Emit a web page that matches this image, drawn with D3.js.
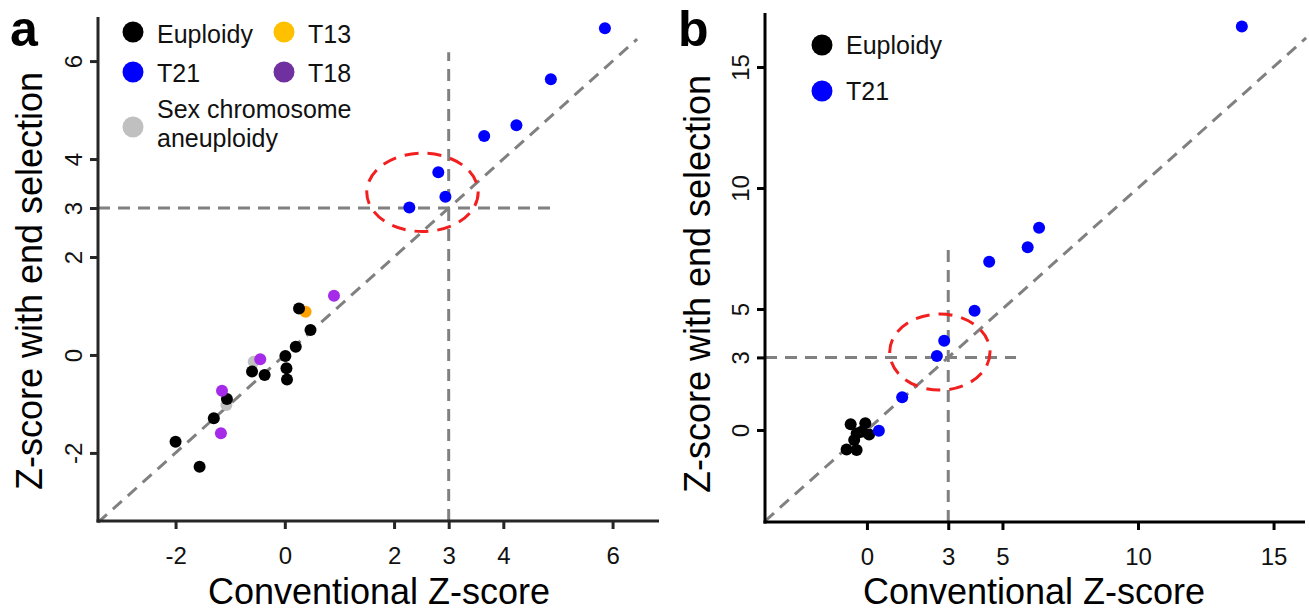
<!DOCTYPE html>
<html>
<head>
<meta charset="utf-8">
<script src="https://cdn.jsdelivr.net/npm/d3@7"></script>
<style>
  body { margin: 0; background: #fff; }
  text { font-family: "Liberation Sans", Arial, sans-serif; }
</style>
</head>
<body>
<div id="chart"></div>
<script>
// ---- panel a data: [conventional Z, Z with end selection] ----
var aEuploidy = [[0.26, 0.95], [0.47, 0.51], [0.20, 0.17], [0.01, -0.02], [0.03, -0.27],
    [0.04, -0.50], [-0.60, -0.34], [-0.37, -0.41], [-1.06, -0.90], [-1.30, -1.29],
    [-2.00, -1.77], [-1.56, -2.28]];
var aT13 = [[0.38, 0.88]];
var aT18 = [[0.90, 1.21], [-0.45, -0.09], [-1.15, -0.73], [-1.17, -1.60]];
var aSex = [[-0.57, -0.14], [-1.07, -1.02]];
var aT21 = [[5.86, 6.67], [4.87, 5.63], [4.24, 4.69], [3.65, 4.47], [2.81, 3.73],
    [2.94, 3.23], [2.28, 3.01]];
var aXTicks = [-2, 0, 2, 3, 4, 6];
var aYTicks = [-2, 0, 2, 3, 4, 6];

// ---- panel b data ----
var bEuploidy = [[-0.60, 0.24], [-0.06, 0.28], [-0.38, -0.14], [0.08, -0.18], [-0.20, -0.07],
    [-0.47, -0.41], [-0.75, -0.80], [-0.38, -0.83]];
var bT21 = [[13.83, 16.67], [6.35, 8.36], [5.93, 7.55], [4.51, 6.95], [3.97, 4.93],
    [2.85, 3.69], [2.58, 3.06], [1.30, 1.35], [0.44, -0.03]];
var bXTicks = [0, 3, 5, 10, 15];
var bYTicks = [0, 3, 5, 10, 15];

var width = 1309, height = 612;

var svg = d3.select("#chart").append("svg")
    .attr("width", width)
    .attr("height", height);

// plain hyphen for negatives, as in the figure
var fmt = function (d) { return String(d); };

function drawPanel(cfg) {
    var x = d3.scaleLinear().domain(cfg.xDomain).range(cfg.xRange);
    var y = d3.scaleLinear().domain(cfg.yDomain).range(cfg.yRange);
    var g = svg.append("g");
    var left = cfg.xRange[0], bottom = cfg.yRange[0];

    // dashed guide lines
    var dash = g.append("g")
        .attr("stroke", "#808080")
        .attr("stroke-width", 3)
        .attr("stroke-dasharray", "12,8")
        .attr("fill", "none");
    dash.append("line")
        .attr("x1", x(cfg.xDomain[0])).attr("y1", y(cfg.xDomain[0]))
        .attr("x2", x(cfg.diagEnd)).attr("y2", y(cfg.diagEnd));
    dash.append("line")
        .attr("x1", x(3)).attr("y1", bottom)
        .attr("x2", x(3)).attr("y2", y(cfg.vTop));
    dash.append("line")
        .attr("x1", left).attr("y1", y(3))
        .attr("x2", x(cfg.hRight)).attr("y2", y(3));

    // red ellipse round the borderline cases
    g.append("ellipse")
        .attr("cx", x(cfg.ellipse[0]))
        .attr("cy", y(cfg.ellipse[1]))
        .attr("rx", x(cfg.ellipse[0] + cfg.ellipse[2]) - x(cfg.ellipse[0]))
        .attr("ry", y(cfg.ellipse[1]) - y(cfg.ellipse[1] + cfg.ellipse[3]))
        .attr("fill", "none")
        .attr("stroke", "#f21f1f")
        .attr("stroke-width", 3)
        .attr("stroke-dasharray", "14,9");

    // points
    cfg.groups.forEach(function (grp) {
        g.append("g").selectAll("circle")
            .data(grp.data)
            .enter().append("circle")
            .attr("cx", function (d) { return x(d[0]); })
            .attr("cy", function (d) { return y(d[1]); })
            .attr("r", 6)
            .attr("fill", grp.color);
    });

    // axes
    var xAxis = g.append("g")
        .attr("transform", "translate(0," + bottom + ")")
        .call(d3.axisBottom(x).tickValues(cfg.xTicks).tickFormat(fmt)
            .tickSize(8).tickSizeOuter(0));
    var yAxis = g.append("g")
        .attr("transform", "translate(" + left + ",0)")
        .call(d3.axisLeft(y).tickValues(cfg.yTicks).tickFormat(fmt)
            .tickSize(8).tickSizeOuter(0));

    [xAxis, yAxis].forEach(function (ax) {
        ax.select(".domain").attr("stroke", cfg.axisColor).attr("stroke-width", 3);
        ax.selectAll(".tick line").attr("stroke", cfg.axisColor).attr("stroke-width", 3);
        ax.selectAll("text").attr("font-size", 24).attr("fill", "#111")
            .style("font-family", "'Liberation Sans', Arial, sans-serif");
    });
    // extend domain lines so they meet at the corner
    xAxis.select(".domain").attr("d", "M" + (left - 1.5) + ",0H" + cfg.xRange[1]);
    yAxis.select(".domain").attr("d", "M0," + (bottom + 1.5) + "V" + cfg.yRange[1]);

    xAxis.selectAll(".tick text").attr("y", 43).attr("dy", 0);
    yAxis.selectAll(".tick text")
        .attr("transform", "rotate(-90)")
        .attr("text-anchor", "middle")
        .attr("x", 0).attr("y", -16).attr("dy", 0);

    // axis titles
    g.append("text")
        .attr("x", cfg.xTitle[0]).attr("y", cfg.xTitle[1])
        .attr("text-anchor", "middle")
        .attr("font-size", 36)
        .text("Conventional Z-score");
    g.append("text")
        .attr("transform", "translate(" + cfg.yTitle[0] + "," + cfg.yTitle[1] + ") rotate(-90)")
        .attr("text-anchor", "middle")
        .attr("font-size", 36)
        .text("Z-score with end selection");

    // panel letter
    g.append("text")
        .attr("x", cfg.letter[0]).attr("y", cfg.letter[1])
        .attr("font-size", 50)
        .attr("font-weight", "bold")
        .text(cfg.letter[2]);

    // legend
    var leg = g.append("g");
    cfg.legend.forEach(function (it) {
        leg.append("circle")
            .attr("cx", it.cx).attr("cy", it.cy).attr("r", 10.5)
            .attr("fill", it.color);
        it.lines.forEach(function (line, i) {
            leg.append("text")
                .attr("x", it.cx + 24)
                .attr("y", it.base + i * 29)
                .attr("font-size", 25)
                .attr("fill", "#111")
                .text(line);
        });
    });
}

drawPanel({
    xDomain: [-3.42, 6.85], xRange: [98, 659],
    yDomain: [-3.39, 6.90], yRange: [521, 17],
    xTicks: aXTicks, yTicks: aYTicks,
    diagEnd: 6.45, vTop: 6.18, hRight: 4.9,
    ellipse: [2.52, 3.32, 1.02, 0.80],
    axisColor: "#262626",
    groups: [
        {data: aSex, color: "#c0c0c0"},
        {data: aT13, color: "#ffa200"},
        {data: aEuploidy, color: "#000000"},
        {data: aT18, color: "#a52be8"},
        {data: aT21, color: "#0000ff"}
    ],
    xTitle: [379, 604], yTitle: [42, 281],
    letter: [10, 46, "a"],
    legend: [
        {cx: 133, cy: 32, base: 43, color: "#000000", lines: ["Euploidy"]},
        {cx: 284, cy: 32, base: 43, color: "#ffc000", lines: ["T13"]},
        {cx: 133, cy: 72, base: 82, color: "#0000ff", lines: ["T21"]},
        {cx: 284, cy: 72, base: 82, color: "#7030a0", lines: ["T18"]},
        {cx: 133, cy: 127, base: 118, color: "#c0c0c0", lines: ["Sex chromosome", "aneuploidy"]}
    ]
});

drawPanel({
    xDomain: [-3.76, 16.16], xRange: [765, 1305],
    yDomain: [-3.80, 17.23], yRange: [522, 13],
    xTicks: bXTicks, yTicks: bYTicks,
    diagEnd: 16.2, vTop: 7.5, hRight: 5.5,
    ellipse: [2.69, 3.22, 1.85, 1.57],
    axisColor: "#000000",
    groups: [
        {data: bEuploidy, color: "#000000"},
        {data: bT21, color: "#0000ff"}
    ],
    xTitle: [1034, 604], yTitle: [710, 284],
    letter: [678, 46, "b"],
    legend: [
        {cx: 822, cy: 45, base: 54, color: "#000000", lines: ["Euploidy"]},
        {cx: 822, cy: 91, base: 100, color: "#0000ff", lines: ["T21"]}
    ]
});
</script>
</body>
</html>
